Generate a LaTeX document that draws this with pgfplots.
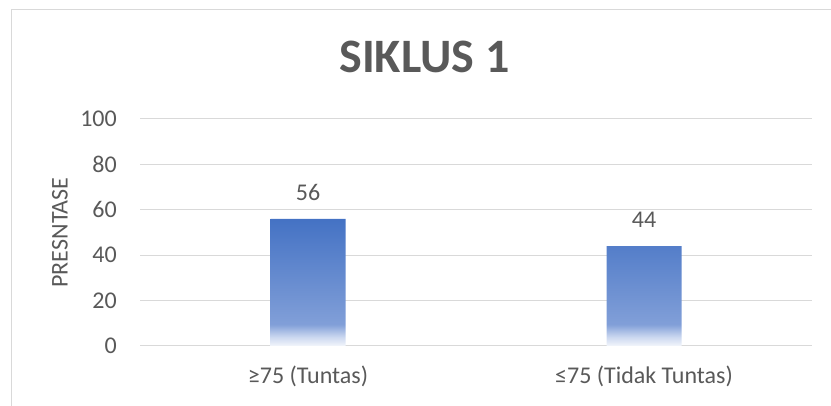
\documentclass[border=0pt]{standalone}
\usepackage{pgfplots}
\pgfplotsset{compat=1.18}
\usepackage{fontspec}
\setmainfont{Carlito}
\definecolor{txt}{HTML}{595959}
\definecolor{gridc}{HTML}{D9D9D9}
\definecolor{framec}{HTML}{D9D9D9}
\definecolor{bartop}{HTML}{4472C4}
\definecolor{bmid}{HTML}{819FD8}
\definecolor{blow}{HTML}{CCD8F0}
\definecolor{bbot}{HTML}{F3F6FB}
\pgfdeclareverticalshading{barshade}{100bp}{color(0bp)=(bbot); color(25bp)=(bbot); color(28.5bp)=(blow); color(33.5bp)=(bmid); color(75bp)=(bartop); color(100bp)=(bartop)}
\begin{document}
\begin{tikzpicture}
\path[use as bounding box] (0bp,0bp) rectangle (831bp,406bp);
\draw[framec, line width=1bp] (11bp,0bp) -- (11bp,396bp) -- (831bp,396bp);
\node[anchor=base, text=txt, font=\fontsize{48bp}{56bp}\selectfont\bfseries] at (424.5bp,333bp) {SIKLUS 1};
\begin{axis}[
  at={(140bp,60bp)}, anchor=south west,
  scale only axis, width=672bp, height=227bp,
  xmin=-0.5, xmax=1.5, ymin=0, ymax=100,
  ytick={0,20,40,60,80,100},
  xtick={0,1},
  xticklabels={{≥75 (Tuntas)},{≤75 (Tidak Tuntas)}},
  ymajorgrids, grid style={gridc, line width=1bp},
  axis line style={draw=none},
  major tick length=0pt,
  /pgf/number format/assume math mode=true,
  ticklabel style={font=\fontsize{24bp}{28bp}\selectfont, text=txt},
  yticklabel style={inner sep=0pt, xshift=-23bp},
  xticklabel style={inner sep=0pt, anchor=north, yshift=-20bp},
  ylabel={PRESNTASE},
  every axis y label/.style={at={(axis description cs:0,0.5)}, anchor=center, rotate=90, yshift=80bp, font=\fontsize{24bp}{28bp}\selectfont, text=txt},
  ybar, bar width=75bp, bar shift=0pt,
  nodes near coords,
  every node near coord/.append style={font=\fontsize{24bp}{28bp}\selectfont, text=txt, anchor=south, inner sep=0pt, yshift=18bp},
  clip=false,
]
\addplot[draw=none, shade, shading=barshade] coordinates {(0,56) (1,44)};
\end{axis}
\end{tikzpicture}
\end{document}
